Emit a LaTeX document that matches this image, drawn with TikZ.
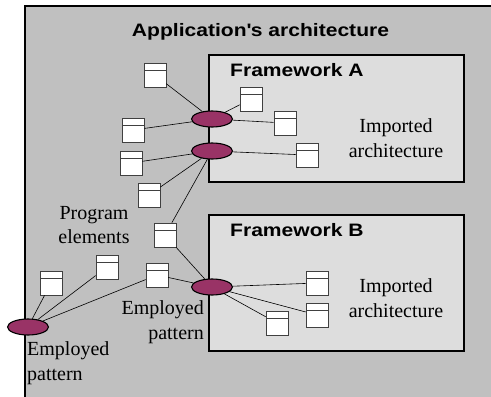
\documentclass[tikz,border=0pt]{standalone}
\usepackage{fontspec}
\setmainfont{Liberation Serif}
\setsansfont{Liberation Sans}[FakeStretch=1.17]
\usetikzlibrary{shapes.geometric}
\definecolor{plum}{HTML}{993366}
\definecolor{outergray}{HTML}{C0C0C0}
\definecolor{innergray}{HTML}{DDDDDD}
\begin{document}
\begin{tikzpicture}[x=1pt,y=-1pt,
cls/.style={draw=black!75,fill=white,line width=0.6pt,minimum width=22pt,minimum height=24pt,inner sep=0pt,
 path picture={\draw[black!75,line width=0.6pt]([yshift=-7pt]path picture bounding box.north west)--([yshift=-7pt]path picture bounding box.north east);}},
pat/.style={ellipse,draw,line width=1.1pt,fill=plum,minimum width=41pt,minimum height=16pt,inner sep=0pt},
hd/.style={font=\sffamily\bfseries\fontsize{18}{20}\selectfont,inner sep=0pt},
txt/.style={font=\fontsize{20}{24.5}\selectfont,inner sep=0pt}]
\useasboundingbox(0,0) rectangle (491,397);
% application and frameworks
\fill[outergray](25,6) rectangle (491,397);
\draw[line width=1.5pt](25,397)--(25,6)--(491,6);
\draw[line width=1.5pt,fill=innergray](209,55) rectangle (464,182);
\draw[line width=1.5pt,fill=innergray](209,215) rectangle (464,351);
\node[hd,anchor=base](title) at (260.5,36){Application\textquotesingle s architecture};
\node[hd,anchor=base west](fwa) at (230,76){Framework A};
\node[hd,anchor=base west](fwb) at (230,236){Framework B};
\node[txt,align=center](impa) at (396,138){Imported\\architecture};
\node[txt,align=center](impb) at (396,298){Imported\\architecture};
\node[txt,align=center](prog) at (94,225){Program\\elements};
\node[txt,align=right,anchor=east](empb) at (204,322){Employed\\pattern};
\node[txt,align=left,anchor=west](empl) at (27,363){Employed\\pattern};
% employed patterns
\node[pat](pa) at (212,119){};
\node[pat](pb) at (212,151){};
\node[pat](pc) at (212,287){};
\node[pat](pd) at (28,327){};
% program elements
\node[cls](c1) at (155,75){};
\node[cls](c2) at (133,130){};
\node[cls](c3) at (131,163){};
\node[cls](c4) at (149,195){};
\node[cls](c5) at (251,99){};
\node[cls](c6) at (285,123){};
\node[cls](c7) at (307,155){};
\node[cls](c8) at (165,235){};
\node[cls](c9) at (107,267){};
\node[cls](c10) at (157,275){};
\node[cls](c11) at (51,283){};
\node[cls](c12) at (317,283){};
\node[cls](c13) at (317,315){};
\node[cls](c14) at (277,323){};
\begin{scope}[line width=0.6pt]
\draw(pa)--(c1) (pa)--(c2) (pa)--(c5) (pa)--(c6);
\draw(pb)--(c3) (pb)--(c4) (pb)--(c8) (pb)--(c7);
\draw(pc)--(c8) (pc)--(c10) (pc)--(c12) (pc)--(c13) (pc)--(c14);
\draw(pd)--(c11) (pd)--(c9) (pd)--(c10);
\end{scope}
\end{tikzpicture}
\end{document}
